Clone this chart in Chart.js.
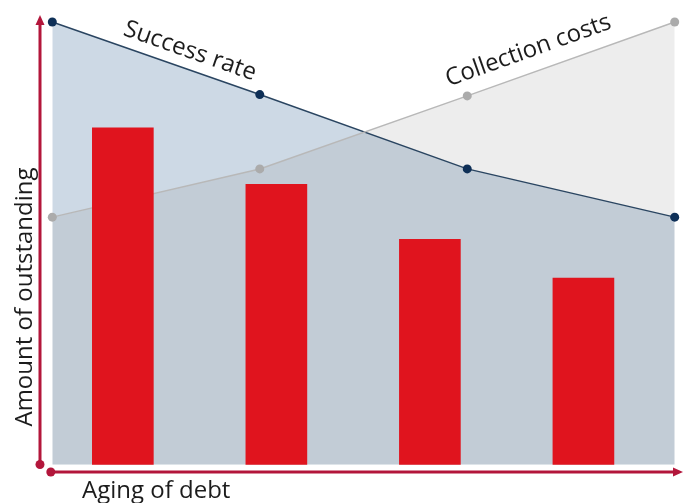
<!DOCTYPE html>
<html>
<head>
<meta charset="utf-8">
<script src="https://cdn.jsdelivr.net/npm/chart.js@4/dist/chart.umd.min.js"></script>
<style>
  html, body { margin: 0; padding: 0; background: #ffffff; }
  #wrap { width: 688px; height: 503px; }
</style>
</head>
<body>
<div id="wrap"><canvas id="c" width="688" height="503"></canvas></div>
<script>
// ---- data ----
const agingSteps = [0, 1, 2, 3];
const successRate = [100, 83.6, 66.8, 55.9];
const collectionCosts = [55.9, 66.8, 83.3, 100];
const barAging = [0.34, 1.08, 1.82, 2.56];
const outstandingAmounts = [76.1, 63.3, 50.9, 42.1];
const seriesNames = ['Success rate', 'Collection costs', 'Amount of outstanding'];
const xAxisTitle = 'Aging of debt';
const yAxisTitle = 'Amount of outstanding';

const toPoints = (xs, ys) => xs.map((x, i) => ({ x: x, y: ys[i] }));

const AXIS_COLOR = '#b3163b';
const FONT = '"Open Sans", "Noto Sans", sans-serif';

const decor = {
  id: 'decor',
  afterDraw(chart) {
    const { ctx, chartArea, scales } = chart;
    const xs = scales.x, ys = scales.y;
    ctx.save();
    // axes
    ctx.strokeStyle = AXIS_COLOR;
    ctx.fillStyle = AXIS_COLOR;
    ctx.lineWidth = 3;
    const yx = chartArea.left;
    const y0 = ys.getPixelForValue(0);
    ctx.beginPath();
    ctx.moveTo(yx, y0);
    ctx.lineTo(yx, chartArea.top + 8);
    ctx.stroke();
    ctx.beginPath();
    ctx.moveTo(yx, chartArea.top);
    ctx.lineTo(yx - 4.5, chartArea.top + 10);
    ctx.lineTo(yx + 4.5, chartArea.top + 10);
    ctx.closePath();
    ctx.fill();
    ctx.beginPath();
    ctx.arc(yx, y0, 4.5, 0, Math.PI * 2);
    ctx.fill();

    const xy = chartArea.bottom;
    const xStart = xs.getPixelForValue(0) - 1.5;
    ctx.beginPath();
    ctx.moveTo(xStart, xy);
    ctx.lineTo(chartArea.right - 8, xy);
    ctx.stroke();
    ctx.beginPath();
    ctx.moveTo(chartArea.right, xy);
    ctx.lineTo(chartArea.right - 10, xy - 4.5);
    ctx.lineTo(chartArea.right - 10, xy + 4.5);
    ctx.closePath();
    ctx.fill();
    ctx.beginPath();
    ctx.arc(xStart, xy, 4.5, 0, Math.PI * 2);
    ctx.fill();

    // line labels
    ctx.fillStyle = '#1c1c1c';
    ctx.font = '24px ' + FONT;
    ctx.textAlign = 'center';
    ctx.textBaseline = 'middle';
    const label = (text, xa, ya, xb, yb, t, off) => {
      const ax = xs.getPixelForValue(xa), ay = ys.getPixelForValue(ya);
      const bx = xs.getPixelForValue(xb), by = ys.getPixelForValue(yb);
      const ang = Math.atan2(by - ay, bx - ax);
      const px = ax + (bx - ax) * t + Math.sin(ang) * off;
      const py = ay + (by - ay) * t - Math.cos(ang) * off;
      ctx.save();
      ctx.translate(px, py);
      ctx.rotate(ang);
      ctx.fillText(text, 0, 0);
      ctx.restore();
    };
    label(seriesNames[0], agingSteps[0], successRate[0], agingSteps[1], successRate[1], 0.635, 18);
    label(seriesNames[1], agingSteps[2], collectionCosts[2], agingSteps[3], collectionCosts[3], 0.33, 22);

    // axis titles
    ctx.textAlign = 'left';
    ctx.textBaseline = 'alphabetic';
    ctx.fillText(xAxisTitle, 82, 498);
    ctx.save();
    ctx.translate(32, 297);
    ctx.rotate(-Math.PI / 2);
    ctx.textAlign = 'center';
    ctx.fillText(yAxisTitle, 0, 0);
    ctx.restore();
    ctx.restore();
  }
};

new Chart(document.getElementById('c'), {
  data: {
    datasets: [
      {
        type: 'bar',
        label: seriesNames[2],
        data: toPoints(barAging, outstandingAmounts),
        backgroundColor: '#e0141e',
        borderWidth: 0,
        barThickness: 61,
        order: 1
      },
      {
        type: 'line',
        label: seriesNames[1],
        data: toPoints(agingSteps, collectionCosts),
        borderColor: '#b8b8b8',
        borderWidth: 1.5,
        backgroundColor: 'rgba(126,126,126,0.14)',
        fill: 'origin',
        tension: 0,
        pointRadius: 4.5,
        pointBackgroundColor: '#ababab',
        pointBorderWidth: 0,
        order: 2
      },
      {
        type: 'line',
        label: seriesNames[0],
        data: toPoints(agingSteps, successRate),
        borderColor: '#2a4561',
        borderWidth: 1.5,
        backgroundColor: 'rgb(205,217,229)',
        fill: 'origin',
        tension: 0,
        pointRadius: 4.5,
        pointBackgroundColor: '#0e2f57',
        pointBorderWidth: 0,
        order: 3
      }
    ]
  },
  options: {
    responsive: false,
    animation: false,
    devicePixelRatio: 1,
    layout: { padding: { left: 40, right: 5, top: 15, bottom: 31 } },
    scales: {
      x: { type: 'linear', min: -0.0593, max: 3.04, offset: false, display: false },
      y: { type: 'linear', min: -1.695, max: 101.58, display: false }
    },
    plugins: {
      legend: { display: false },
      tooltip: { enabled: false },
      filler: { drawTime: 'beforeDatasetsDraw' }
    }
  },
  plugins: [decor]
});
</script>
</body>
</html>
